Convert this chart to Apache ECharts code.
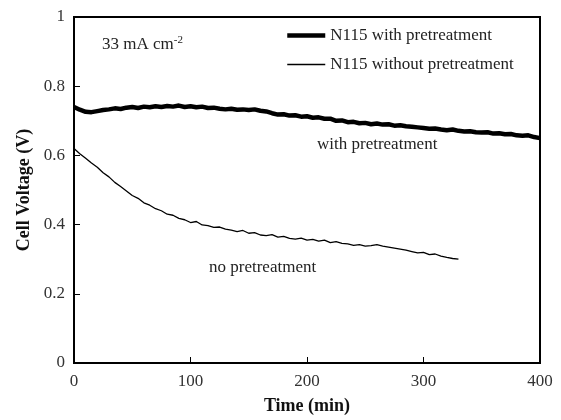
<!DOCTYPE html>
<html style="height: 100%">
<head>
<meta charset="utf-8">
<title>Cell voltage vs time</title>
<script src="https://cdn.jsdelivr.net/npm/echarts@6/dist/echarts.min.js"></script>
</head>
<body style="height: 100%; margin: 0; background: #fff">
<div id="container" style="width: 561px; height: 420px"></div>
<script type="text/javascript">
// time (min) and cell voltage (V)
var timeWith = [0, 5, 10, 15, 20, 25, 30, 35, 40, 45, 50, 55, 60, 65, 70, 75, 80, 85, 90, 95,
    100, 105, 110, 115, 120, 125, 130, 135, 140, 145, 150, 155, 160, 165, 170, 175, 180, 185, 190, 195,
    200, 205, 210, 215, 220, 225, 230, 235, 240, 245, 250, 255, 260, 265, 270, 275, 280, 285, 290, 295,
    300, 305, 310, 315, 320, 325, 330, 335, 340, 345, 350, 355, 360, 365, 370, 375, 380, 385, 390, 395, 400];
var voltWith = [0.740, 0.732, 0.726, 0.725, 0.728, 0.731, 0.733, 0.736, 0.734, 0.738, 0.740, 0.737, 0.741, 0.739, 0.742, 0.740, 0.743, 0.741, 0.744, 0.740,
    0.742, 0.739, 0.741, 0.737, 0.738, 0.735, 0.733, 0.735, 0.732, 0.733, 0.731, 0.733, 0.729, 0.727, 0.722, 0.718, 0.719, 0.715, 0.716, 0.712,
    0.713, 0.709, 0.710, 0.706, 0.706, 0.700, 0.701, 0.696, 0.697, 0.693, 0.694, 0.690, 0.692, 0.689, 0.690, 0.686, 0.687, 0.684, 0.683, 0.681,
    0.679, 0.677, 0.678, 0.675, 0.673, 0.675, 0.671, 0.669, 0.670, 0.667, 0.666, 0.667, 0.663, 0.664, 0.661, 0.662, 0.658, 0.657, 0.658, 0.653, 0.650];

var timeWithout = [0, 5, 10, 15, 20, 25, 30, 35, 40, 45, 50, 55, 60, 65, 70, 75, 80, 85, 90, 95,
    100, 105, 110, 115, 120, 125, 130, 135, 140, 145, 150, 155, 160, 165, 170, 175, 180, 185, 190, 195,
    200, 205, 210, 215, 220, 225, 230, 235, 240, 245, 250, 255, 260, 265, 270, 275, 280, 285, 290, 295,
    300, 305, 310, 315, 320, 325, 330];
var voltWithout = [0.620, 0.605, 0.592, 0.578, 0.566, 0.550, 0.538, 0.522, 0.510, 0.497, 0.484, 0.476, 0.463, 0.456, 0.446, 0.440, 0.430, 0.427, 0.418, 0.414,
    0.406, 0.409, 0.399, 0.397, 0.392, 0.393, 0.387, 0.384, 0.380, 0.383, 0.375, 0.377, 0.370, 0.368, 0.371, 0.364, 0.366, 0.360, 0.358, 0.361,
    0.355, 0.357, 0.352, 0.355, 0.348, 0.351, 0.346, 0.344, 0.340, 0.342, 0.338, 0.339, 0.342, 0.338, 0.335, 0.332, 0.329, 0.326, 0.322, 0.318,
    0.320, 0.313, 0.315, 0.309, 0.305, 0.302, 0.300];

var seriesNames = ['N115 with pretreatment', 'N115 without pretreatment'];

function pairs(xs, ys) {
    var res = [];
    for (var i = 0; i < xs.length; i++) {
        res.push([xs[i], ys[i]]);
    }
    return res;
}

var serif = '"Liberation Serif", "DejaVu Serif", serif';
var myChart = echarts.init(document.getElementById('container'), null, {renderer: 'canvas'});
var option = {
    backgroundColor: '#fff',
    animation: false,
    textStyle: {fontFamily: serif},
    grid: {
        left: 74, right: 21, top: 17, bottom: 54,
        show: true, borderColor: '#000', borderWidth: 2
    },
    legend: {
        orient: 'vertical',
        left: 285,
        top: 27,
        padding: 0,
        itemWidth: 38,
        itemHeight: 14,
        itemGap: 12,
        itemStyle: {opacity: 0},
        textStyle: {fontFamily: serif, fontSize: 17, color: '#222'},
        data: [
            {name: seriesNames[0], lineStyle: {width: 4.5, color: '#000'}},
            {name: seriesNames[1], lineStyle: {width: 1.3, color: '#000'}}
        ]
    },
    xAxis: {
        type: 'value',
        min: 0, max: 400, interval: 100,
        name: 'Time (min)',
        nameLocation: 'middle',
        nameGap: 34,
        nameTextStyle: {fontFamily: serif, fontSize: 18, fontWeight: 'bold', color: '#111'},
        axisLine: {lineStyle: {color: '#000', width: 2}},
        axisTick: {inside: true, length: 6, lineStyle: {color: '#000'}},
        axisLabel: {fontFamily: serif, fontSize: 17, color: '#333', margin: 10},
        splitLine: {show: false}
    },
    yAxis: {
        type: 'value',
        min: 0, max: 1, interval: 0.2,
        name: 'Cell Voltage (V)',
        nameLocation: 'middle',
        nameGap: 41,
        nameTextStyle: {fontFamily: serif, fontSize: 18, fontWeight: 'bold', color: '#111'},
        axisLine: {lineStyle: {color: '#000', width: 2}},
        axisTick: {inside: true, length: 6, lineStyle: {color: '#000'}},
        axisLabel: {fontFamily: serif, fontSize: 17, color: '#333', margin: 9},
        splitLine: {show: false}
    },
    graphic: [
        {
            type: 'text', left: 102, top: 35,
            style: {
                text: '{n|33 mA cm}{s|-2}',
                rich: {
                    n: {fontFamily: serif, fontSize: 17, fill: '#222'},
                    s: {fontFamily: serif, fontSize: 11, fill: '#222', verticalAlign: 'top', padding: [0, 0, 8, 0]}
                }
            }
        },
        {
            type: 'text', left: 317, top: 136,
            style: {text: 'with pretreatment', fontFamily: serif, fontSize: 17, fill: '#222'}
        },
        {
            type: 'text', left: 209, top: 259,
            style: {text: 'no pretreatment', fontFamily: serif, fontSize: 17, fill: '#222'}
        }
    ],
    series: [
        {
            name: seriesNames[0],
            type: 'line',
            showSymbol: false,
            symbol: 'none',
            data: pairs(timeWith, voltWith),
            lineStyle: {color: '#000', width: 4.5},
            itemStyle: {color: '#000'}
        },
        {
            name: seriesNames[1],
            type: 'line',
            showSymbol: false,
            symbol: 'none',
            data: pairs(timeWithout, voltWithout),
            lineStyle: {color: '#000', width: 1.3},
            itemStyle: {color: '#000'}
        }
    ]
};
myChart.setOption(option);
</script>
</body>
</html>
